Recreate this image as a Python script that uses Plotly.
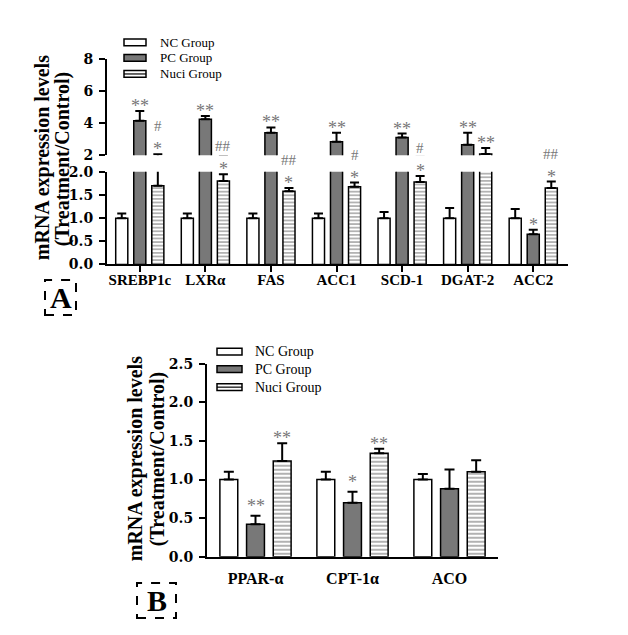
import plotly.graph_objects as go

# page body has an 8px margin; figure is sized so the page does not overflow
OFF = 8
FW, FH = 612, 619

# ---------------- data ----------------
genes_a = ["SREBP1c", "LXRα", "FAS", "ACC1", "SCD-1", "DGAT-2", "ACC2"]
nc_a = [1.0, 1.0, 1.0, 1.0, 1.0, 1.0, 1.0]
nc_a_err = [0.10, 0.10, 0.10, 0.10, 0.13, 0.22, 0.20]
pc_a = [4.15, 4.25, 3.40, 2.85, 3.10, 2.65, 0.65]
pc_a_err = [0.60, 0.20, 0.33, 0.55, 0.25, 0.75, 0.10]
nuci_a = [1.70, 1.80, 1.58, 1.68, 1.78, 2.08, 1.65]
nuci_a_err = [0.36, 0.15, 0.07, 0.09, 0.13, 0.38, 0.14]
pc_a_sig = ["**", "**", "**", "**", "**", "**", "*"]
nuci_a_sig = ["*", "*", "*", "*", "*", "**", "*"]
nuci_a_hash = ["#", "##", "##", "#", "#", "", "##"]

genes_b = ["PPAR-α", "CPT-1α", "ACO"]
nc_b = [1.0, 1.0, 1.0]
nc_b_err = [0.10, 0.10, 0.07]
pc_b = [0.42, 0.70, 0.88]
pc_b_err = [0.11, 0.14, 0.25]
nuci_b = [1.24, 1.34, 1.10]
nuci_b_err = [0.23, 0.06, 0.15]
pc_b_sig = ["**", "*", ""]
nuci_b_sig = ["**", "**", ""]

groups = ["NC Group", "PC Group", "Nuci Group"]

# ---------------- style ----------------
SERIF = "Liberation Serif"
TICKSERIF = "DejaVu Serif"
PC_COLOR = "#787878"
SIG_COLOR = "#777777"
BARGAP = 0.175
BARGROUPGAP = 0.33
SLOT = (1 - BARGAP) / 3


def px(x):
    return (x - OFF) / FW


def py(y):
    return 1 - (y - OFF) / FH


def styles(i, psize):
    line = dict(color="black", width=1.5)
    if i == 0:
        return dict(color="white", line=line)
    if i == 1:
        return dict(color=PC_COLOR, line=line)
    return dict(color="white", line=line,
                pattern=dict(shape="-", fgcolor="black", bgcolor="white",
                             size=psize, solidity=0.3))


fig = go.Figure()

panel_a = [(nc_a, nc_a_err), (pc_a, pc_a_err), (nuci_a, nuci_a_err)]
panel_b = [(nc_b, nc_b_err), (pc_b, pc_b_err), (nuci_b, nuci_b_err)]


def add_bars(cats, series, xa, ya, psize, cap):
    for i, (vals, errs) in enumerate(series):
        fig.add_trace(go.Bar(
            x=cats, y=vals, name=groups[i], xaxis=xa, yaxis=ya,
            showlegend=False, marker=styles(i, psize),
            error_y=dict(type="data", array=errs, arrayminus=[0] * len(errs),
                         symmetric=False, color="black", thickness=2, width=cap),
        ))


add_bars(genes_a, panel_a, "x", "y", 3.6, 4.5)
add_bars(genes_a, panel_a, "x2", "y2", 3.6, 4.5)
add_bars(genes_b, panel_b, "x3", "y3", 4, 5)

# ---------------- axes ----------------
ytick_font = dict(family=TICKSERIF, size=14, color="black", weight="bold")
xtick_font = dict(family=SERIF, size=15, color="black", weight="bold")
common_y = dict(showline=True, linewidth=2, linecolor="black", ticks="outside",
                ticklen=6, tickwidth=2, tickcolor="black", showgrid=False,
                zeroline=False, tickfont=ytick_font, fixedrange=True,
                ticklabelstandoff=3)

fig.update_layout(
    width=FW, height=FH, margin=dict(l=0, r=0, t=0, b=0),
    paper_bgcolor="white", plot_bgcolor="white",
    barmode="group", bargap=BARGAP, bargroupgap=BARGROUPGAP,
    xaxis=dict(domain=[px(107), px(568)], anchor="y", range=[-0.5, 6.53],
               showline=True, linewidth=2, linecolor="black", ticks="outside",
               ticklen=6, tickwidth=2, tickcolor="black", showgrid=False,
               tickfont=xtick_font, ticklabelstandoff=-5),
    yaxis=dict(domain=[py(263), py(168)], anchor="x", range=[0, 2],
               tickvals=[0, 0.5, 1.0, 1.5, 2.0], tickformat=".1f", **common_y),
    xaxis2=dict(domain=[px(107), px(568)], anchor="y2", range=[-0.5, 6.53],
                matches="x", visible=False),
    yaxis2=dict(domain=[py(151), py(52)], anchor="x2", range=[2, 8],
                tickvals=[2, 4, 6, 8], **common_y),
    xaxis3=dict(domain=[px(207), px(498)], anchor="y3", range=[-0.5, 2.5],
                showline=True, linewidth=2, linecolor="black", ticks="",
                showgrid=False, ticklabelstandoff=6,
                tickfont=dict(family=SERIF, size=16, color="black", weight="bold")),
    yaxis3=dict(domain=[py(563), py(365)], anchor="x3", range=[0, 2.5],
                tickvals=[0, 0.5, 1.0, 1.5, 2.0, 2.5], tickformat=".1f",
                **common_y),
)

annotations = []
shapes = []


def sig(xref, yref, xpos, ypos, text, lift, size=18):
    annotations.append(dict(
        xref=xref, yref=yref, x=xpos, y=ypos, text=text, showarrow=False,
        xanchor="center", yanchor="middle", yshift=lift,
        font=dict(family=SERIF, size=size, color=SIG_COLOR)))


# panel A significance markers
for k in range(len(genes_a)):
    top = pc_a[k] + pc_a_err[k]
    yr = "y2" if top > 2 else "y"
    if pc_a_sig[k]:
        sig("x", yr, k, top, pc_a_sig[k], 5)
    top = nuci_a[k] + nuci_a_err[k]
    yr = "y2" if top > 2 else "y"
    if nuci_a_sig[k]:
        sig("x", yr, k + SLOT, top, nuci_a_sig[k], 5)
    if nuci_a_hash[k]:
        sig("x", yr, k + SLOT, top, nuci_a_hash[k], 28, size=15)

# panel B significance markers
for k in range(len(genes_b)):
    top = pc_b[k] + pc_b_err[k]
    if pc_b_sig[k]:
        sig("x3", "y3", k, top, pc_b_sig[k], 10)
    top = nuci_b[k] + nuci_b_err[k]
    if nuci_b_sig[k]:
        sig("x3", "y3", k + SLOT, top, nuci_b_sig[k], 5)


# y-axis titles
def ytitle(xp, yp, text):
    annotations.append(dict(
        xref="paper", yref="paper", x=px(xp), y=py(yp), text=text,
        showarrow=False, textangle=-90, xanchor="center", yanchor="middle",
        font=dict(family=SERIF, size=20, color="black", weight="bold")))


ytitle(42, 154, "mRNA expression levels")
ytitle(62, 155, "(Treatment/Control)")
ytitle(135, 463, "mRNA expression levels")
ytitle(157, 463, "(Treatment/Control)")


# legends (drawn manually)
def legend(x0, x1, ys, h, tx, size):
    for i, yc in enumerate(ys):
        fill = ["white", PC_COLOR, "white"][i]
        shapes.append(dict(type="rect", xref="paper", yref="paper",
                           x0=px(x0), x1=px(x1), y0=py(yc - h / 2), y1=py(yc + h / 2),
                           line=dict(color="black", width=1.5), fillcolor=fill))
        if i == 2:
            shapes.append(dict(type="line", xref="paper", yref="paper",
                               x0=px(x0), x1=px(x1), y0=py(yc), y1=py(yc),
                               line=dict(color="black", width=1.2)))
        annotations.append(dict(
            xref="paper", yref="paper", x=px(tx), y=py(yc), text=groups[i],
            showarrow=False, xanchor="left", yanchor="middle",
            font=dict(family=SERIF, size=size, color="black")))


legend(124, 146, [35, 51, 67.5], 7, 158, 13)
legend(217, 242, [352.5, 370.5, 389], 7, 253, 14)


# panel labels in dashed boxes
def panel_label(x0, x1, y0, y1, text):
    shapes.append(dict(type="rect", xref="paper", yref="paper",
                       x0=px(x0), x1=px(x1), y0=py(y1), y1=py(y0),
                       line=dict(color="black", width=2, dash="dash")))
    annotations.append(dict(
        xref="paper", yref="paper", x=px((x0 + x1) / 2), y=py((y0 + y1) / 2),
        text=text, showarrow=False, xanchor="center", yanchor="middle",
        font=dict(family=SERIF, size=30, color="black", weight="bold")))


panel_label(45, 76, 279, 315, "A")
panel_label(137, 176, 590, 626, "B")

fig.update_layout(annotations=annotations, shapes=shapes)

fig.write_html("out.html")
